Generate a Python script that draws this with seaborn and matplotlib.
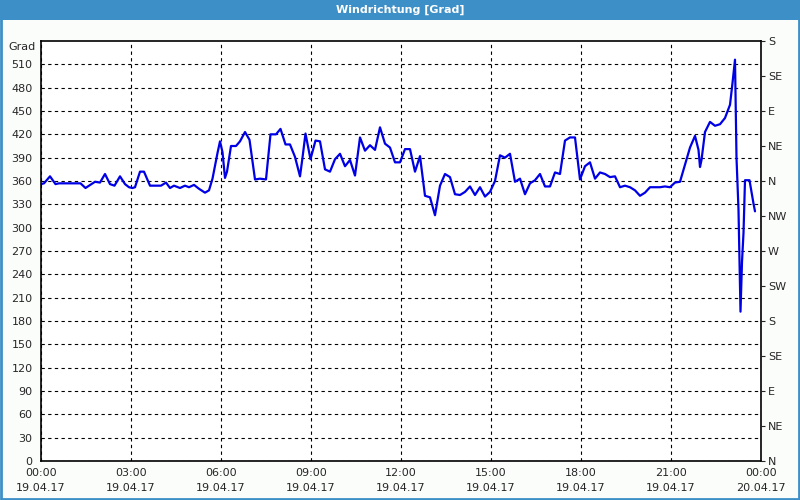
import matplotlib
matplotlib.use("Agg")
import matplotlib.pyplot as plt
import matplotlib.dates as mdates
from matplotlib.patches import Rectangle
import numpy as np
import pandas as pd
import seaborn as sns

# ---- data -------------------------------------------------------------
minutes = [0, 6, 18, 29, 36, 79, 89, 96, 108, 118, 128, 138, 147, 158, 168, 176, 183, 188,
           198, 206, 218, 230, 240, 250, 258, 266, 278, 288, 296, 306, 316, 328, 336, 343,
           353, 358, 363, 368, 372, 380, 390, 398, 408, 417, 428, 438, 450, 459, 470, 479,
           489, 498, 508, 518, 523, 529, 539, 549, 558, 568, 578, 588, 598, 608, 618, 628,
           638, 648, 658, 668, 678, 688, 698, 708, 718, 728, 738, 748, 758, 768, 778, 788,
           798, 808, 818, 828, 838, 848, 858, 868, 878, 888, 898, 908, 918, 928, 938, 948,
           958, 968, 978, 988, 998, 1008, 1018, 1028, 1038, 1048, 1058, 1068, 1078, 1088,
           1098, 1108, 1118, 1128, 1138, 1148, 1158, 1168, 1178, 1188, 1198, 1208, 1218,
           1228, 1238, 1248, 1258, 1268, 1278, 1288, 1298, 1308, 1315, 1318, 1321, 1328,
           1338, 1348, 1358, 1368, 1378, 1383, 1388, 1391, 1395, 1397, 1399, 1402, 1405,
           1408, 1417, 1425, 1428]
direction = [356, 357, 366, 356, 357, 357, 351, 354, 359, 358, 369, 356, 354, 366, 356, 352,
             351, 352, 372, 372, 354, 354, 354, 358, 351, 354, 351, 354, 352, 355, 350, 345,
             348, 363, 396, 411, 397, 364, 372, 405, 405, 411, 423, 413, 362, 363, 362, 420,
             420, 427, 407, 407, 391, 366, 390, 421, 388, 412, 411, 375, 372, 388, 395, 379,
             387, 367, 416, 399, 406, 400, 429, 408, 403, 384, 384, 401, 401, 372, 392, 341,
             339, 316, 354, 369, 365, 343, 342, 346, 353, 342, 352, 340, 346, 360, 393, 390,
             395, 359, 363, 343, 357, 361, 369, 353, 353, 371, 369, 412, 416, 416, 362, 379,
             384, 363, 371, 369, 365, 366, 352, 354, 352, 348, 341, 345, 352, 352, 352, 353,
             352, 358, 359, 381, 403, 418, 400, 378, 387, 423, 436, 431, 433, 441, 458, 486,
             516, 390, 323, 258, 192, 256, 293, 361, 361, 331, 321]

left_ticks = list(range(0, 540, 30))
right_ticks = list(range(0, 541, 45))
right_labels = ['N', 'NE', 'E', 'SE', 'S', 'SW', 'W', 'NW', 'N', 'NE', 'E', 'SE', 'S']
title = "Windrichtung [Grad]"
unit = "Grad"

start = pd.Timestamp("2017-04-19 00:00")
end = pd.Timestamp("2017-04-20 00:00")
df = pd.DataFrame({"time": start + pd.to_timedelta(minutes, unit="min"),
                   "value": direction})

# ---- style ------------------------------------------------------------
sns.set_style("white")
plt.rcParams['font.family'] = ['DejaVu Sans']
plt.rcParams['font.size'] = 8

BLUE = "#3c8fc7"
fig = plt.figure(figsize=(8, 5), dpi=100, facecolor="#fbfdfb")
ax = fig.add_axes([41 / 800, 39 / 500, 720 / 800, 420 / 500])
ax.set_facecolor("white")

sns.lineplot(data=df, x="time", y="value", ax=ax, color="#0000e6", linewidth=1.6)

ax.set_xlim(start, end)
ax.set_ylim(0, 540)
ax.set_xlabel("")
ax.set_ylabel("")

ax.set_yticks(left_ticks)
ax.set_yticklabels([str(t) for t in left_ticks])
ax.xaxis.set_major_locator(mdates.HourLocator(byhour=range(0, 24, 3)))
ax.xaxis.set_minor_locator(mdates.HourLocator())
ax.xaxis.set_major_formatter(mdates.DateFormatter("%H:%M\n%d.%m.%y"))

ax.grid(True, which="major", color="black", linestyle=(0, (3, 3)), linewidth=0.8)
ax.tick_params(axis="y", which="both", length=0, pad=6, labelsize=8)
ax.tick_params(axis="x", which="both", direction="in", length=4, width=0.8,
               pad=5, labelsize=8, color="black")
for lab in ax.get_xticklabels():
    lab.set_linespacing(1.6)
for s in ax.spines.values():
    s.set_color("black")
    s.set_linewidth(1.2)

ax.annotate(unit, xy=(0, 540), xycoords=("axes fraction", "data"),
            xytext=(-4, -4), textcoords="offset points", ha="right", va="center",
            fontsize=8)

ax2 = ax.twinx()
ax2.set_ylim(0, 540)
ax2.set_yticks(right_ticks)
ax2.set_yticklabels(right_labels)
ax2.tick_params(axis="y", direction="out", length=3, width=0.8, pad=2, labelsize=8)
for s in ax2.spines.values():
    s.set_visible(False)
ax2.grid(False)

# ---- window frame -----------------------------------------------------
fig.patches.append(Rectangle((0, 480 / 500), 1, 20 / 500, transform=fig.transFigure,
                             facecolor=BLUE, edgecolor="none", zorder=0))
fig.patches.append(Rectangle((0.001, 0.002), 0.998, 0.996, transform=fig.transFigure,
                             facecolor="none", edgecolor=BLUE, linewidth=2, zorder=5))
fig.text(0.5, 490 / 500, title, color="white", fontsize=8, fontweight="bold",
         ha="center", va="center")

fig.savefig("out.png", dpi=100, facecolor=fig.get_facecolor())
